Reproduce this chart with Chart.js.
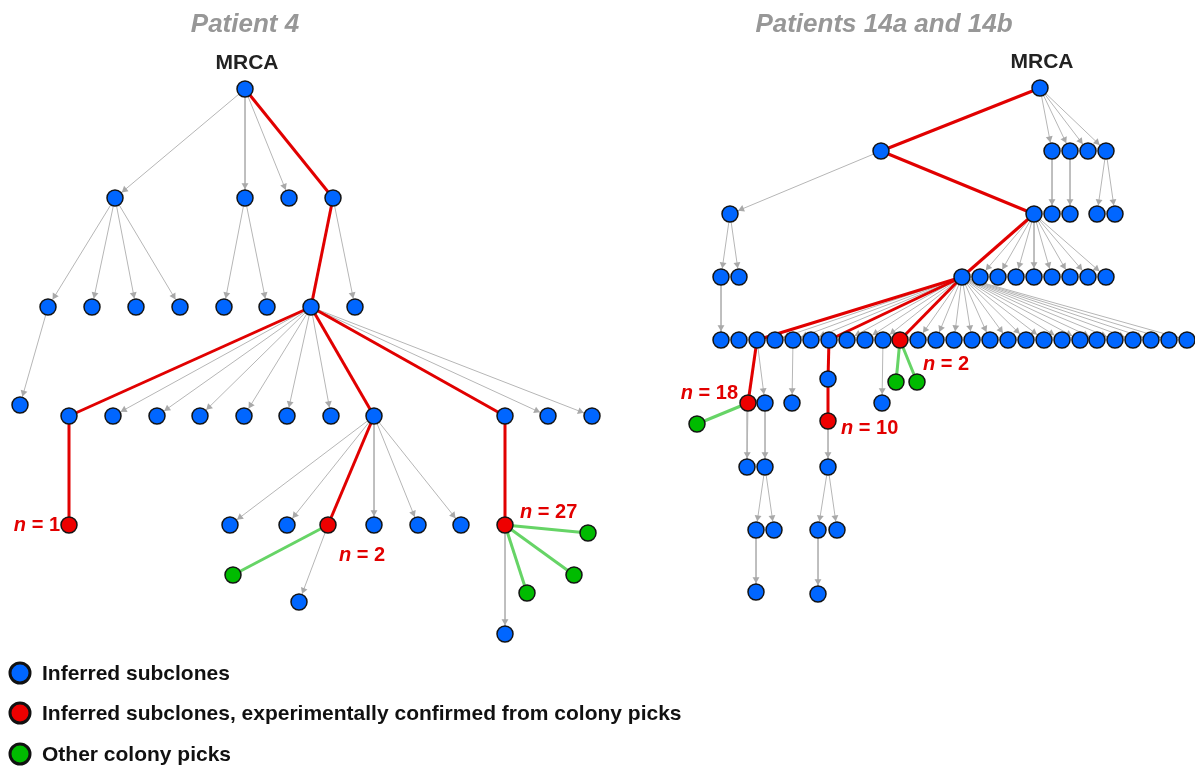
<!DOCTYPE html>
<html>
<head>
<meta charset="utf-8">
<script src="https://cdn.jsdelivr.net/npm/chart.js@4.4.1/dist/chart.umd.min.js"></script>
<style>
  html, body { margin: 0; padding: 0; background: #ffffff; overflow: hidden; }
  canvas { display: block; }
</style>
</head>
<body>
<canvas id="tree" width="1195" height="767"></canvas>
<script>
// ---------------------------------------------------------------------------
// Subclone trees. Each node: layout x, layout y, parent index (-1 = none),
// link type to its parent (g = inferred ancestry, r = confirmed lineage,
// c = colony pick attachment) and node kind (0 inferred, 1 confirmed, 2 pick).
// ---------------------------------------------------------------------------
const kindNames = [
  'Inferred subclones',
  'Inferred subclones, experimentally confirmed from colony picks',
  'Other colony picks'
];

// Patient 4
const p4X = [245,
  115, 245, 289, 333,
  48, 92, 136, 180, 224, 267, 311, 355,
  20, 69, 113, 157, 200, 244, 287, 331, 374, 505, 548, 592,
  69, 230, 287, 328, 374, 418, 461, 505,
  233, 299, 588, 574, 527, 505];
const p4Y = [89,
  198, 198, 198, 198,
  307, 307, 307, 307, 307, 307, 307, 307,
  405, 416, 416, 416, 416, 416, 416, 416, 416, 416, 416, 416,
  525, 525, 525, 525, 525, 525, 525, 525,
  575, 602, 533, 575, 593, 634];
const p4Parent = [-1,
  0, 0, 0, 0,
  1, 1, 1, 1, 2, 2, 4, 4,
  5, 11, 11, 11, 11, 11, 11, 11, 11, 11, 11, 11,
  14, 21, 21, 21, 21, 21, 21, 22,
  28, 28, 32, 32, 32, 32];
const p4Link = ['',
  'g', 'g', 'g', 'r',
  'g', 'g', 'g', 'g', 'g', 'g', 'r', 'g',
  'g', 'r', 'g', 'g', 'g', 'g', 'g', 'g', 'r', 'r', 'g', 'g',
  'r', 'g', 'g', 'r', 'g', 'g', 'g', 'r',
  'c', 'g', 'c', 'c', 'c', 'g'];
const p4Kind = [0,
  0, 0, 0, 0,
  0, 0, 0, 0, 0, 0, 0, 0,
  0, 0, 0, 0, 0, 0, 0, 0, 0, 0, 0, 0,
  1, 0, 0, 1, 0, 0, 0, 1,
  2, 0, 2, 2, 2, 0];
// colony counts shown beside confirmed subclones: [node, n]
const p4Counts = [[25, 1], [28, 2], [32, 27]];

// Patients 14a and 14b
const p14X = [1040,
  881, 1052, 1070, 1088, 1106,
  730, 1034, 1052, 1070, 1097, 1115,
  721, 739, 962, 980, 998, 1016, 1034, 1052, 1070, 1088, 1106,
  721, 739, 757, 775, 793, 811, 829, 847, 865, 883, 900, 918, 936, 954,
  972, 990, 1008, 1026, 1044, 1062, 1080, 1097, 1115, 1133, 1151, 1169, 1187,
  748, 765, 792, 828, 828, 882, 896, 917, 697,
  747, 765, 828,
  756, 774, 818, 837,
  756, 818];
const p14Y = [88,
  151, 151, 151, 151, 151,
  214, 214, 214, 214, 214, 214,
  277, 277, 277, 277, 277, 277, 277, 277, 277, 277, 277,
  340, 340, 340, 340, 340, 340, 340, 340, 340, 340, 340, 340, 340, 340,
  340, 340, 340, 340, 340, 340, 340, 340, 340, 340, 340, 340, 340,
  403, 403, 403, 379, 421, 403, 382, 382, 424,
  467, 467, 467,
  530, 530, 530, 530,
  592, 594];
const p14Parent = [-1,
  0, 0, 0, 0, 0,
  1, 1, 2, 3, 5, 5,
  6, 6, 7, 7, 7, 7, 7, 7, 7, 7, 7,
  12, -1, 14, 14, 14, 14, 14, 14, 14, 14, 14, 14, 14, 14,
  14, 14, 14, 14, 14, 14, 14, 14, 14, 14, 14, 14, 14,
  25, 25, 27, 29, 53, 32, 33, 33, 50,
  50, 51, 54,
  60, 60, 61, 61,
  62, 64];
const p14Link = ['',
  'r', 'g', 'g', 'g', 'g',
  'g', 'r', 'g', 'g', 'g', 'g',
  'g', 'g', 'r', 'g', 'g', 'g', 'g', 'g', 'g', 'g', 'g',
  'g', '', 'r', 'g', 'g', 'g', 'r', 'g', 'g', 'g', 'r', 'g', 'g', 'g',
  'g', 'g', 'g', 'g', 'g', 'g', 'g', 'g', 'g', 'g', 'g', 'g', 'g',
  'r', 'g', 'g', 'r', 'r', 'g', 'c', 'c', 'c',
  'g', 'g', 'g',
  'g', 'g', 'g', 'g',
  'g', 'g'];
const p14Kind = [0,
  0, 0, 0, 0, 0,
  0, 0, 0, 0, 0, 0,
  0, 0, 0, 0, 0, 0, 0, 0, 0, 0, 0,
  0, 0, 0, 0, 0, 0, 0, 0, 0, 0, 1, 0, 0, 0,
  0, 0, 0, 0, 0, 0, 0, 0, 0, 0, 0, 0, 0,
  1, 0, 0, 0, 1, 0, 2, 2, 2,
  0, 0, 0,
  0, 0, 0, 0,
  0, 0];
const p14Counts = [[50, 18], [54, 10], [33, 2]];

// Panel headings
const panelTitles = ['Patient 4', 'Patients 14a and 14b'];
const rootLabel = 'MRCA';

// ---------------------------------------------------------------------------
// Styling
// ---------------------------------------------------------------------------
const W = 1195, H = 767;
const NODE_R = 8, NODE_BORDER = 1.5, ARROW_R = 4;
const kindFill = ['#0066ff', '#ee0000', '#00bb00'];
const linkColor = { g: '#b6b6b6', r: '#e10000', c: '#66d466' };
const linkWidth = { g: 1, r: 3, c: 3 };
const linkOrder = { g: 5, r: 3, c: 3 };
const FONT = "'Liberation Sans', Arial, Helvetica, sans-serif";

// label placement relative to its node: [dx, dy, align]
const countPlacement = {
  p4: [[-9, 0, 'right'], [11, 30, 'left'], [15, -13, 'left']],
  p14: [[-10, -10, 'right'], [13, 7, 'left'], [23, 24, 'left']]
};

function makeTree(xs, ys, parent, link, kind) {
  return xs.map((x, i) => ({ x, y: ys[i], parent: parent[i], link: link[i], kind: kind[i] }));
}
const trees = [
  { nodes: makeTree(p4X, p4Y, p4Parent, p4Link, p4Kind), counts: p4Counts, place: countPlacement.p4, title: panelTitles[0], titleX: 245 },
  { nodes: makeTree(p14X, p14Y, p14Parent, p14Link, p14Kind), counts: p14Counts, place: countPlacement.p14, title: panelTitles[1], titleX: 884 }
];

// ---------------------------------------------------------------------------
// Datasets: one line per link, arrowheads on inferred links, nodes by kind
// ---------------------------------------------------------------------------
const datasets = [];
const arrowPts = [], arrowRot = [];
const tipOffset = NODE_R + NODE_BORDER / 2;

trees.forEach(tree => {
  tree.nodes.forEach(n => {
    if (n.parent < 0) return;
    const p = tree.nodes[n.parent];
    datasets.push({
      type: 'scatter',
      data: [{ x: p.x, y: p.y }, { x: n.x, y: n.y }],
      showLine: true,
      borderColor: linkColor[n.link],
      borderWidth: linkWidth[n.link],
      pointRadius: 0,
      pointHoverRadius: 0,
      order: linkOrder[n.link],
      clip: false
    });
    if (n.link === 'g') {
      const dx = n.x - p.x, dy = n.y - p.y;
      const len = Math.hypot(dx, dy);
      const ux = dx / len, uy = dy / len;
      const back = tipOffset + ARROW_R;
      arrowPts.push({ x: n.x - ux * back, y: n.y - uy * back });
      arrowRot.push(Math.atan2(uy, ux) * 180 / Math.PI + 90);
    }
  });
});

datasets.push({
  type: 'scatter',
  data: arrowPts,
  pointStyle: 'triangle',
  pointRadius: ARROW_R,
  pointHoverRadius: ARROW_R,
  rotation: arrowRot,
  backgroundColor: '#a9a9a9',
  borderColor: '#a9a9a9',
  borderWidth: 0,
  order: 2,
  clip: false
});

kindNames.forEach((name, k) => {
  const pts = [];
  trees.forEach(tree => tree.nodes.forEach(n => { if (n.kind === k) pts.push({ x: n.x, y: n.y }); }));
  datasets.push({
    type: 'scatter',
    label: name,
    data: pts,
    pointRadius: NODE_R,
    pointHoverRadius: NODE_R,
    backgroundColor: kindFill[k],
    borderColor: '#141414',
    borderWidth: NODE_BORDER,
    order: 1,
    clip: false
  });
});

// ---------------------------------------------------------------------------
// Text: panel titles, root labels, colony counts and the key
// ---------------------------------------------------------------------------
const annotations = {
  id: 'treeText',
  afterDraw(chart) {
    const { ctx, scales: { x, y } } = chart;
    ctx.save();
    trees.forEach(tree => {
      // panel title
      ctx.font = `italic bold 26px ${FONT}`;
      ctx.fillStyle = '#979797';
      ctx.textAlign = 'center';
      ctx.textBaseline = 'alphabetic';
      ctx.fillText(tree.title, x.getPixelForValue(tree.titleX), 32);

      // root label
      const root = tree.nodes[0];
      ctx.font = `bold 21px ${FONT}`;
      ctx.fillStyle = '#222222';
      ctx.fillText(rootLabel, x.getPixelForValue(root.x) + 2, y.getPixelForValue(root.y) - 20);

      // colony counts
      tree.counts.forEach(([idx, count], i) => {
        const n = tree.nodes[idx];
        const [dx, dy, align] = tree.place[i];
        const px = x.getPixelForValue(n.x) + dx;
        const py = y.getPixelForValue(n.y) + dy;
        const fItal = `italic bold 20px ${FONT}`;
        const fBold = `bold 20px ${FONT}`;
        const rest = ' = ' + count;
        ctx.font = fItal; const wN = ctx.measureText('n').width;
        ctx.font = fBold; const wR = ctx.measureText(rest).width;
        const left = align === 'right' ? px - wN - wR : px;
        ctx.fillStyle = '#e20000';
        ctx.textAlign = 'left';
        ctx.textBaseline = 'middle';
        ctx.font = fItal; ctx.fillText('n', left, py);
        ctx.font = fBold; ctx.fillText(rest, left + wN, py);
      });
    });

    // key
    const keyY = [673, 713, 754];
    kindNames.forEach((name, k) => {
      ctx.beginPath();
      ctx.arc(20, keyY[k], 10, 0, Math.PI * 2);
      ctx.fillStyle = kindFill[k];
      ctx.fill();
      ctx.lineWidth = 3;
      ctx.strokeStyle = '#111111';
      ctx.stroke();
      ctx.font = `bold 21px ${FONT}`;
      ctx.fillStyle = '#111111';
      ctx.textAlign = 'left';
      ctx.textBaseline = 'alphabetic';
      ctx.fillText(name, 42, keyY[k] + 7);
    });
    ctx.restore();
  }
};

new Chart(document.getElementById('tree'), {
  type: 'scatter',
  data: { datasets },
  options: {
    responsive: false,
    animation: false,
    devicePixelRatio: 1,
    events: [],
    layout: { padding: 0, autoPadding: false },
    scales: {
      x: { type: 'linear', min: 0, max: W, display: false },
      y: { type: 'linear', min: 0, max: H, reverse: true, display: false }
    },
    plugins: {
      legend: { display: false },
      tooltip: { enabled: false },
      title: { display: false }
    }
  },
  plugins: [annotations]
});
</script>
</body>
</html>
